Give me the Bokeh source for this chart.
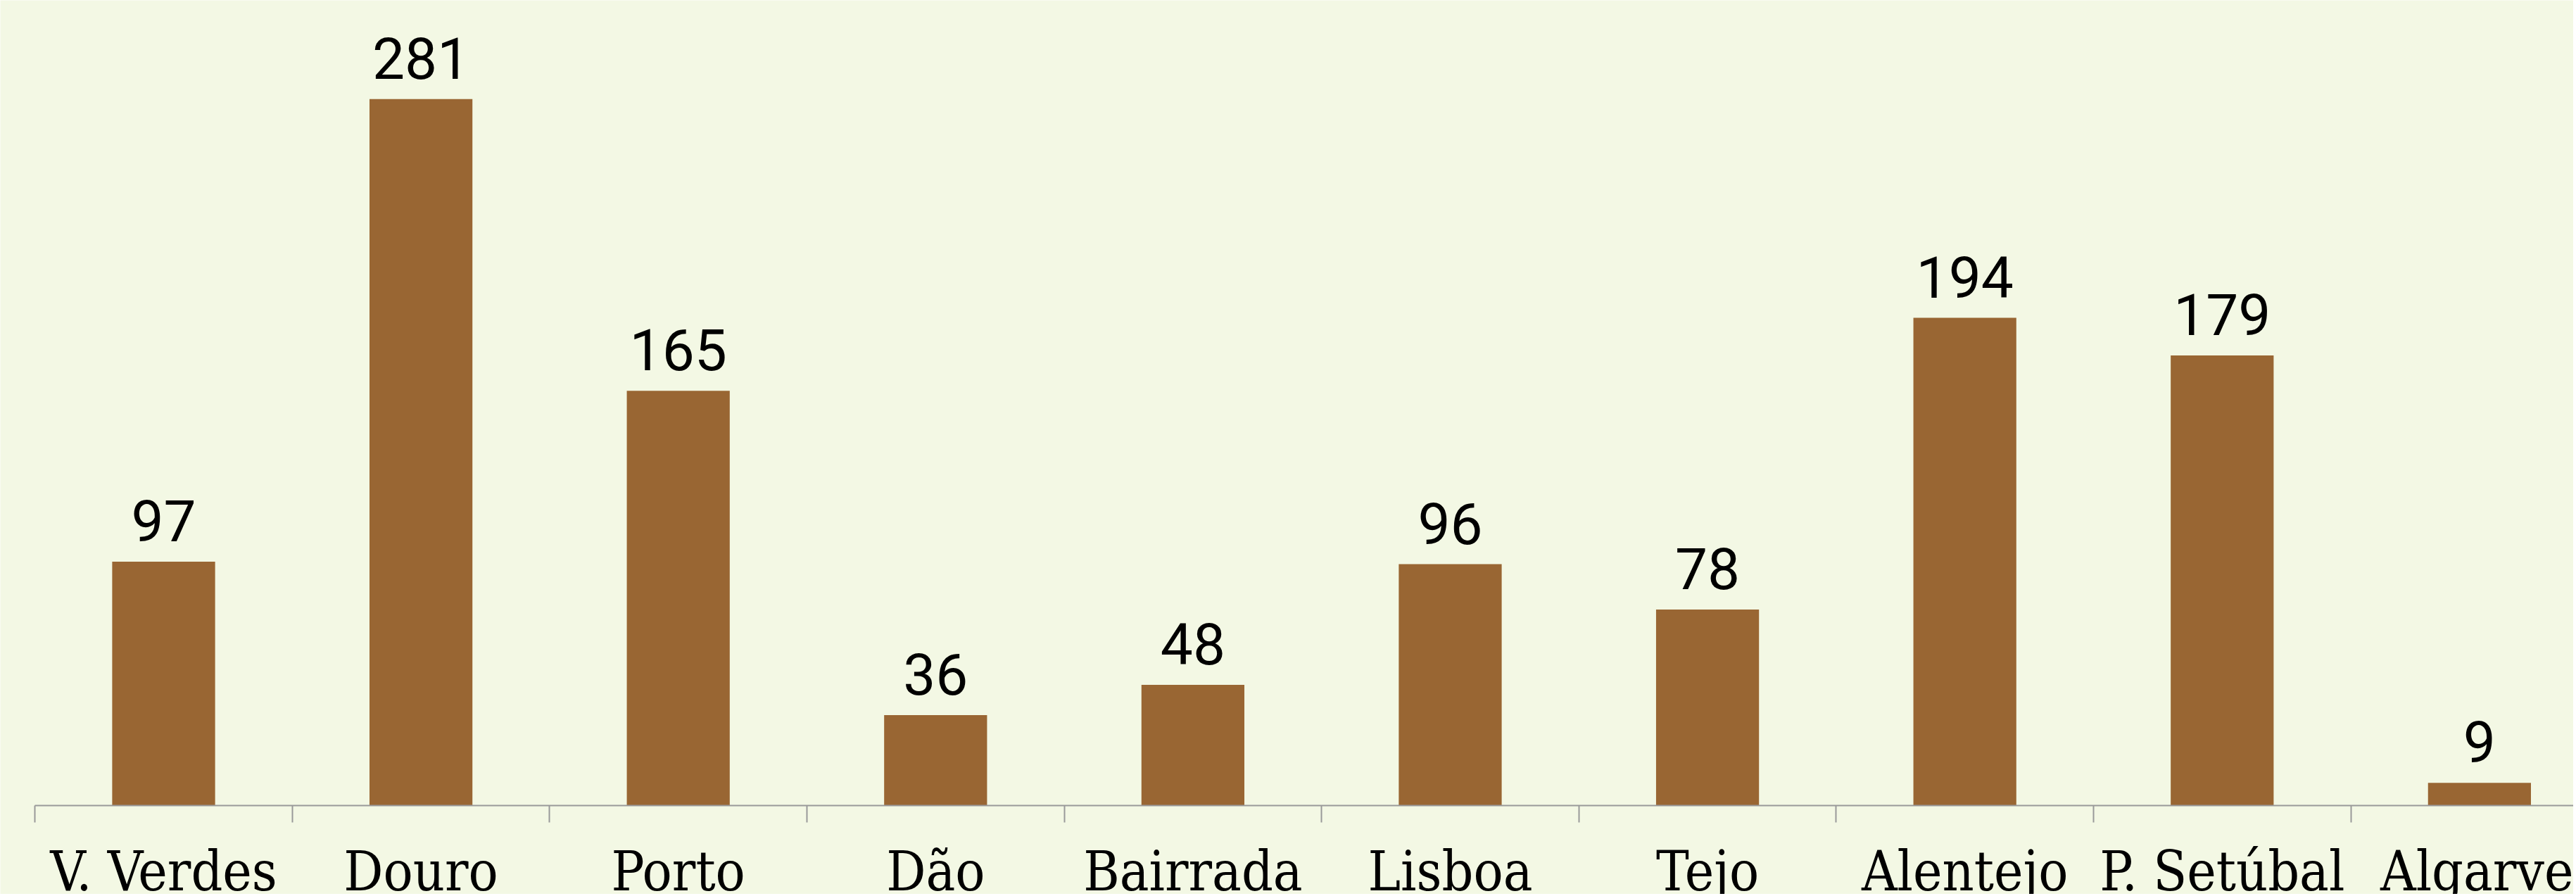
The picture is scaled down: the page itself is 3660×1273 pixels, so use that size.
from bokeh.plotting import figure
from bokeh.models import Range1d, LinearAxis, FixedTicker, ColumnDataSource
from bokeh.core.properties import value
from bokeh.embed import file_html
from bokeh.resources import INLINE

categories = ["V. Verdes", "Douro", "Porto", "Dão", "Bairrada", "Lisboa",
              "Tejo", "Alentejo", "P. Setúbal", "Algarve"]
values = [97, 281, 165, 36, 48, 96, 78, 194, 179, 9]

BG = "#F3F8E4"
BAR = "#996633"
AXIS = "#999999"

centers = [i + 0.5 for i in range(len(categories))]
bounds = list(range(len(categories) + 1))

src = ColumnDataSource(dict(x=centers, top=values, label=[str(v) for v in values]))

p = figure(width=3656, height=1270,
           x_range=Range1d(-0.1346, 9.8655), y_range=Range1d(-35.27, 320.27),
           x_axis_location=None, y_axis_location=None,
           output_backend="svg", toolbar_location=None,
           min_border=0, min_border_left=0, min_border_right=0,
           min_border_top=0, min_border_bottom=0)
p.background_fill_color = BG
p.border_fill_color = BG
p.outline_line_color = None
p.grid.visible = False

p.vbar(x="x", top="top", bottom=0, width=0.4, source=src,
       fill_color=BAR, line_color=None)

p.text(x="x", y="top", text="label", source=src,
       text_align="center", text_baseline="bottom", y_offset=-29,
       text_font=value("Roboto"), text_font_size="82px", text_color="#000000")

ax = LinearAxis(fixed_location=0,
                ticker=FixedTicker(ticks=centers, minor_ticks=bounds),
                major_label_overrides={c: n for c, n in zip(centers, categories)},
                bounds=(0, len(categories)))
ax.axis_line_color = AXIS
ax.axis_line_width = 2
ax.major_tick_line_color = None
ax.major_tick_out = 0
ax.major_tick_in = 0
ax.minor_tick_line_color = AXIS
ax.minor_tick_line_width = 2
ax.minor_tick_out = 24
ax.minor_tick_in = 0
ax.major_label_text_font = "DejaVu Serif Condensed"
ax.major_label_text_font_size = "78px"
ax.major_label_text_color = "#000000"
ax.major_label_standoff = 24
p.add_layout(ax, "below")

open("out.html", "w").write(file_html(p, INLINE))
